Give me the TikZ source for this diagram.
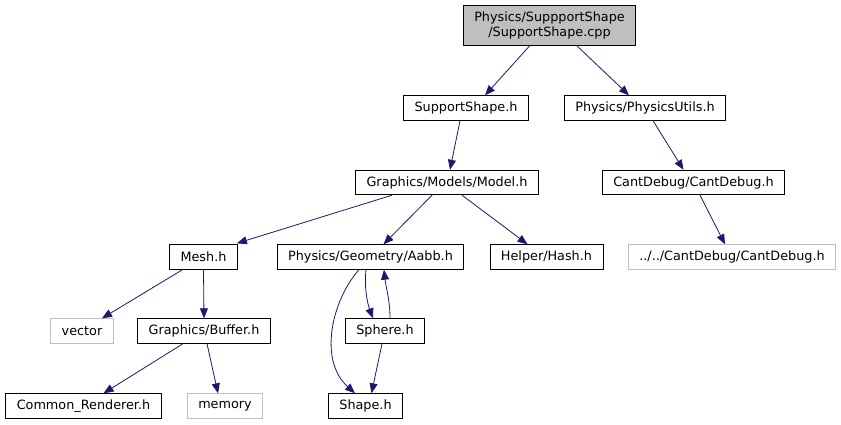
\documentclass[tikz,border=0pt]{standalone}
\usepackage{fontspec}
\setmainfont{DejaVu Sans}
\usetikzlibrary{arrows.meta}
\definecolor{edgecol}{HTML}{191970}
\definecolor{grayline}{HTML}{BFBFBF}
\tikzset{
  box/.style={draw=black, line width=0.9pt, rectangle, inner xsep=11pt, inner ysep=0pt,
    minimum height=24.5pt, font=\fontsize{12.8}{15}\selectfont, text=black},
  extbox/.style={box, draw=grayline},
  rootbox/.style={box, fill=grayline, align=center, minimum height=40pt},
  dep/.style={draw=edgecol, line width=0.8pt, -{Triangle[length=10pt,width=8pt]}, fill=none},
}
\begin{document}
\begin{tikzpicture}[x=1pt,y=-1pt]
\useasboundingbox (0,0) rectangle (841,425);
\node[rootbox] (top) at (549.5,25) {Physics/SuppportShape\\/SupportShape.cpp};
\node[box] (ss) at (466,108) {SupportShape.h};
\node[box] (pu) at (645,108) {Physics/PhysicsUtils.h};
\node[box] (model) at (447,182.5) {Graphics/Models/Model.h};
\node[box] (cd) at (693.5,182.5) {CantDebug/CantDebug.h};
\node[box] (mesh) at (203.5,257) {Mesh.h};
\node[box] (aabb) at (370.5,257) {Physics/Geometry/Aabb.h};
\node[box] (hash) at (546.5,257) {Helper/Hash.h};
\node[extbox] (dd) at (732,257) {../../CantDebug/CantDebug.h};
\node[extbox] (vec) at (82,331) {vector};
\node[box] (buf) at (204,331) {Graphics/Buffer.h};
\node[box] (sph) at (385,331) {Sphere.h};
\node[box] (com) at (83.5,406) {Common\_Renderer.h};
\node[extbox] (mem) at (225,406) {memory};
\node[box] (shape) at (365.5,406) {Shape.h};

\draw[dep] ([xshift=-19.5pt]top.south) -- ([xshift=19pt]ss.north);
\draw[dep] ([xshift=27pt]top.south) -- ([xshift=-16pt]pu.north);
\draw[dep] ([xshift=-6pt]ss.south) -- ([xshift=3pt]model.north);
\draw[dep] ([xshift=8pt]pu.south) -- ([xshift=-10pt]cd.north);
\draw[dep] ([xshift=-55pt]model.south) -- ([xshift=-1pt,yshift=1pt]mesh.north east);
\draw[dep] ([xshift=-15pt]model.south) -- ([xshift=13pt]aabb.north);
\draw[dep] ([xshift=15pt]model.south) -- ([xshift=-19pt]hash.north);
\draw[dep] ([xshift=6.5pt]cd.south) -- ([xshift=-7pt]dd.north);
\draw[dep] ([xshift=-21pt]mesh.south) -- ([xshift=20pt]vec.north);
\draw[dep] (mesh.south) -- (buf.north);
\draw[dep] ([xshift=-21pt]buf.south) -- ([xshift=20pt]com.north);
\draw[dep] ([xshift=3pt]buf.south) -- ([xshift=-7pt]mem.north);
\draw[dep] ([xshift=-4.5pt]aabb.south) .. controls (364,290) and (368,305) .. ([xshift=-12pt]sph.north);
\draw[dep] ([xshift=5pt]sph.north) .. controls (390,300) and (386,288) .. ([xshift=13.5pt]aabb.south);
\draw[dep] ([xshift=-11.5pt]aabb.south) .. controls (332,300) and (318,360) .. ([xshift=-10.5pt]shape.north);
\draw[dep] ([xshift=-3pt]sph.south) -- ([xshift=6pt]shape.north);
\end{tikzpicture}
\end{document}
